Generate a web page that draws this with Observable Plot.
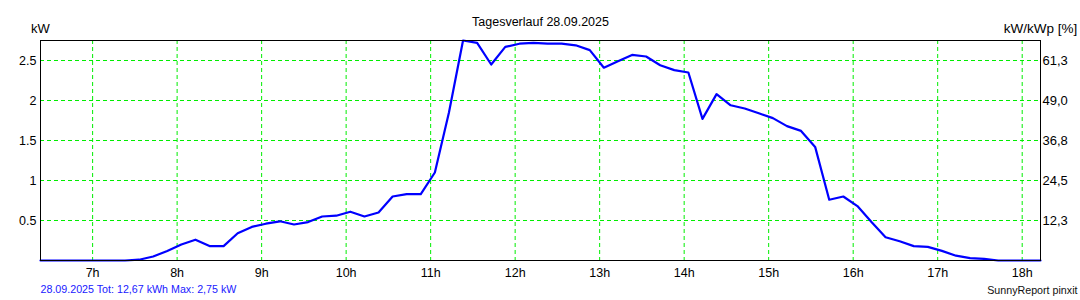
<!DOCTYPE html>
<html>
<head>
<meta charset="utf-8">
<script src="https://cdn.jsdelivr.net/npm/d3@7"></script>
<script src="https://cdn.jsdelivr.net/npm/@observablehq/plot@0.6"></script>
<style>
  html, body { margin: 0; padding: 0; background: #fff; }
  svg { display: block; }
</style>
</head>
<body>
<div id="chart"></div>
<script>
const times = [
  "06:23","06:33","06:43","06:53","07:03","07:13","07:23","07:33","07:43","07:53",
  "08:03","08:13","08:23","08:33","08:43","08:53","09:03","09:13","09:23","09:33",
  "09:43","09:53","10:03","10:13","10:23","10:33","10:43","10:53","11:03","11:13",
  "11:23","11:33","11:43","11:53","12:03","12:13","12:23","12:33","12:43","12:53",
  "13:03","13:13","13:23","13:33","13:43","13:53","14:03","14:13","14:23","14:33",
  "14:43","14:53","15:03","15:13","15:23","15:33","15:43","15:53","16:03","16:13",
  "16:23","16:33","16:43","16:53","17:03","17:13","17:23","17:33","17:43","17:53",
  "18:03","18:13"
];
const powerKW = [
  0, 0, 0, 0, 0, 0, 0, 0.01, 0.05, 0.12,
  0.20, 0.26, 0.18, 0.18, 0.34, 0.42, 0.46, 0.49, 0.45, 0.48,
  0.55, 0.56, 0.61, 0.55, 0.60, 0.80, 0.83, 0.83, 1.10, 1.85,
  2.75, 2.72, 2.45, 2.67, 2.71, 2.72, 2.71, 2.71, 2.69, 2.63,
  2.41, 2.49, 2.57, 2.55, 2.44, 2.38, 2.35, 1.77, 2.08, 1.94,
  1.90, 1.84, 1.78, 1.68, 1.62, 1.42, 0.76, 0.80, 0.68, 0.48,
  0.29, 0.24, 0.18, 0.17, 0.12, 0.06, 0.03, 0.02, 0, 0,
  0, 0
];
const hourTicks = [7, 8, 9, 10, 11, 12, 13, 14, 15, 16, 17, 18];
const kwTicks = [0.5, 1, 1.5, 2, 2.5];
const kWp = 4.08;
const titleText = "Tagesverlauf 28.09.2025";
const leftUnit = "kW";
const rightUnit = "kW/kWp [%]";
const footerLeft = "28.09.2025 Tot: 12,67 kWh Max: 2,75 kW";
const footerRight = "SunnyReport pinxit";

const toHours = s => { const [h, m] = s.split(":").map(Number); return h + m / 60; };
const data = times.map((t, i) => ({ t: toHours(t), kw: powerKW[i] }));

const gridStyle = { stroke: "#00ee00", strokeOpacity: 1, strokeWidth: 1, strokeDasharray: "4,3" };
const font = "'Liberation Sans', Arial, sans-serif";

const chart = Plot.plot({
  width: 1080,
  height: 300,
  marginLeft: 40,
  marginRight: 40,
  marginTop: 40,
  marginBottom: 40,
  style: { fontFamily: font, fontSize: "12.5px", color: "#000", background: "#fff" },
  x: { domain: [toHours(times[0]), toHours(times[times.length - 1])] },
  y: { domain: [0, 2.75] },
  marks: [
    Plot.gridX(hourTicks, gridStyle),
    Plot.gridY(kwTicks, gridStyle),
    Plot.line(data, { x: "t", y: "kw", stroke: "#0000ff", strokeWidth: 2.2 }),
    Plot.frame({ stroke: "#000", strokeWidth: 1 }),
    Plot.axisX(hourTicks, { tickSize: 0, tickPadding: 8, tickFormat: d => d + "h", label: null, fontSize: 12.5 }),
    Plot.axisY(kwTicks, { anchor: "left", tickSize: 0, tickPadding: 4, tickFormat: d => String(d), label: null, fontSize: 12.5 }),
    Plot.axisY(kwTicks, { anchor: "right", tickSize: 0, tickPadding: 2, tickFormat: d => (d / kWp * 100).toFixed(1).replace(".", ","), label: null, fontSize: 13 }),
    Plot.text([titleText], { text: d => d, frameAnchor: "top", lineAnchor: "bottom", dy: -15, fontSize: 12.5, fill: "#000" }),
    Plot.text([leftUnit], { text: d => d, frameAnchor: "top-left", textAnchor: "middle", lineAnchor: "bottom", dy: -8, fontSize: 13, fill: "#000" }),
    Plot.text([rightUnit], { text: d => d, frameAnchor: "top-right", textAnchor: "middle", lineAnchor: "bottom", dy: -8, fontSize: 13.5, fill: "#000" }),
    Plot.text([footerLeft], { text: d => d, frameAnchor: "bottom-left", textAnchor: "start", lineAnchor: "bottom", dy: 32, fontSize: 10.7, fill: "#2020ff" }),
    Plot.text([footerRight], { text: d => d, frameAnchor: "bottom-right", textAnchor: "end", lineAnchor: "bottom", dx: 37, dy: 33, fontSize: 10.7, fill: "#111" })
  ]
});
document.getElementById("chart").appendChild(chart);
</script>
</body>
</html>
